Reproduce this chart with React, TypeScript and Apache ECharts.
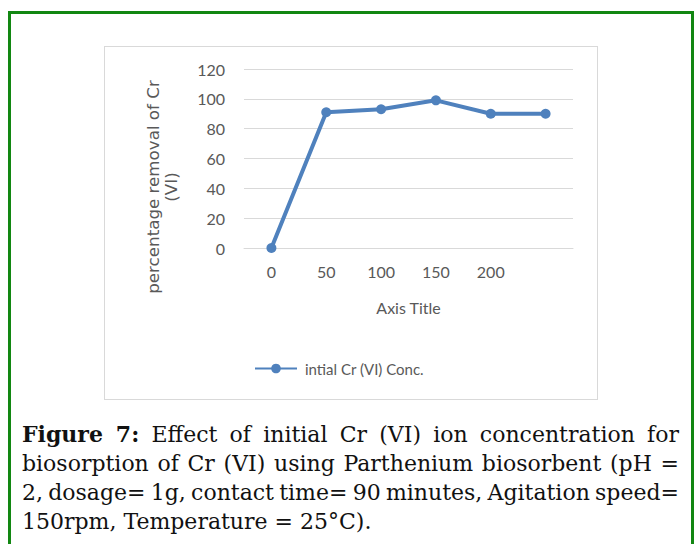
import React, { useEffect, useRef } from "react";
import * as echarts from "echarts";

const categories = ["0", "50", "100", "150", "200", ""];
const removalValues = [0, 91, 93, 99, 90, 90];
const seriesName = "intial Cr (VI) Conc.";
const xAxisTitle = "Axis Title";
const yAxisTitle = "percentage removal of Cr\n(VI)";
const captionLines = [
  { bold: "Figure 7:", text: " Effect of initial Cr (VI) ion concentration for", justify: true },
  { bold: "", text: "biosorption of Cr (VI) using Parthenium biosorbent (pH =", justify: true },
  { bold: "", text: "2, dosage= 1g, contact time= 90 minutes, Agitation speed=", justify: true },
  { bold: "", text: "150rpm, Temperature = 25°C).", justify: false },
];

const LABEL_FONT = "Lato, 'Open Sans', sans-serif";

function Chart() {
  const ref = useRef<HTMLDivElement>(null);
  useEffect(() => {
    if (!ref.current) return;
    const chart = echarts.init(ref.current, undefined, { renderer: "svg" });
    chart.setOption({
      animation: false,
      backgroundColor: "#ffffff",
      grid: { left: 139, top: 22, width: 329, height: 179, containLabel: false },
      xAxis: {
        type: "category",
        data: categories,
        boundaryGap: true,
        name: xAxisTitle,
        nameLocation: "middle",
        nameGap: 51,
        nameTextStyle: { color: "#595959", fontFamily: LABEL_FONT, fontSize: 16 },
        axisLine: { show: true, lineStyle: { color: "#d9d9d9", width: 1 } },
        axisTick: { show: false },
        axisLabel: { color: "#595959", fontFamily: LABEL_FONT, fontSize: 16, margin: 15 },
        splitLine: { show: false },
      },
      yAxis: {
        type: "value",
        min: 0,
        max: 120,
        interval: 20,
        axisLine: { show: false },
        axisTick: { show: false },
        axisLabel: { color: "#595959", fontFamily: LABEL_FONT, fontSize: 16, margin: 19 },
        splitLine: { show: true, lineStyle: { color: "#d9d9d9", width: 1 } },
      },
      legend: {
        data: [seriesName],
        left: 144,
        top: 309,
        itemWidth: 42,
        itemHeight: 12,
        itemGap: 8,
        textStyle: { color: "#595959", fontFamily: LABEL_FONT, fontSize: 15, padding: [0, 0, 0, 3] },
      },
      graphic: [
        {
          type: "text",
          x: 162 - 105,
          y: 187 - 47,
          rotation: Math.PI / 2,
          style: {
            text: yAxisTitle,
            fill: "#595959",
            fontFamily: "DejaVu Sans",
            fontSize: 16.7,
            textAlign: "center",
            textVerticalAlign: "middle",
            lineHeight: 18,
          },
        },
      ],
      series: [
        {
          name: seriesName,
          type: "line",
          data: removalValues,
          symbol: "circle",
          symbolSize: 10,
          lineStyle: { color: "#4f81bd", width: 4 },
          itemStyle: { color: "#4f81bd" },
        },
      ],
    });
    return () => chart.dispose();
  }, []);
  return <div ref={ref} style={{ width: 492, height: 352 }} />;
}

export default function App() {
  return (
    <div
      style={{
        position: "fixed",
        left: 0,
        top: 0,
        width: 694,
        height: 544,
        overflow: "hidden",
        background: "#ffffff",
      }}
    >
      <div
        style={{
          position: "absolute",
          left: 8,
          top: 11,
          width: 680,
          height: 600,
          border: "3px solid #128712",
        }}
      />
      <div
        style={{
          position: "absolute",
          left: 104,
          top: 46,
          width: 492,
          height: 352,
          border: "1px solid #d9d9d9",
        }}
      >
        <Chart />
      </div>
      <div
        style={{
          position: "absolute",
          left: 22,
          top: 420,
          width: 657,
          fontFamily: "'DejaVu Serif', 'Liberation Serif', serif",
          fontSize: 22,
          lineHeight: "29px",
          color: "#111111",
        }}
      >
        {captionLines.map((l, i) => (
          <div
            key={i}
            style={{
              textAlign: l.justify ? "justify" : "left",
              textAlignLast: l.justify ? "justify" : "left",
              wordSpacing: l.justify ? "-3px" : "0px",
              whiteSpace: "nowrap",
            }}
          >
            {l.bold ? <b>{l.bold}</b> : null}
            {l.text}
          </div>
        ))}
      </div>
    </div>
  );
}
